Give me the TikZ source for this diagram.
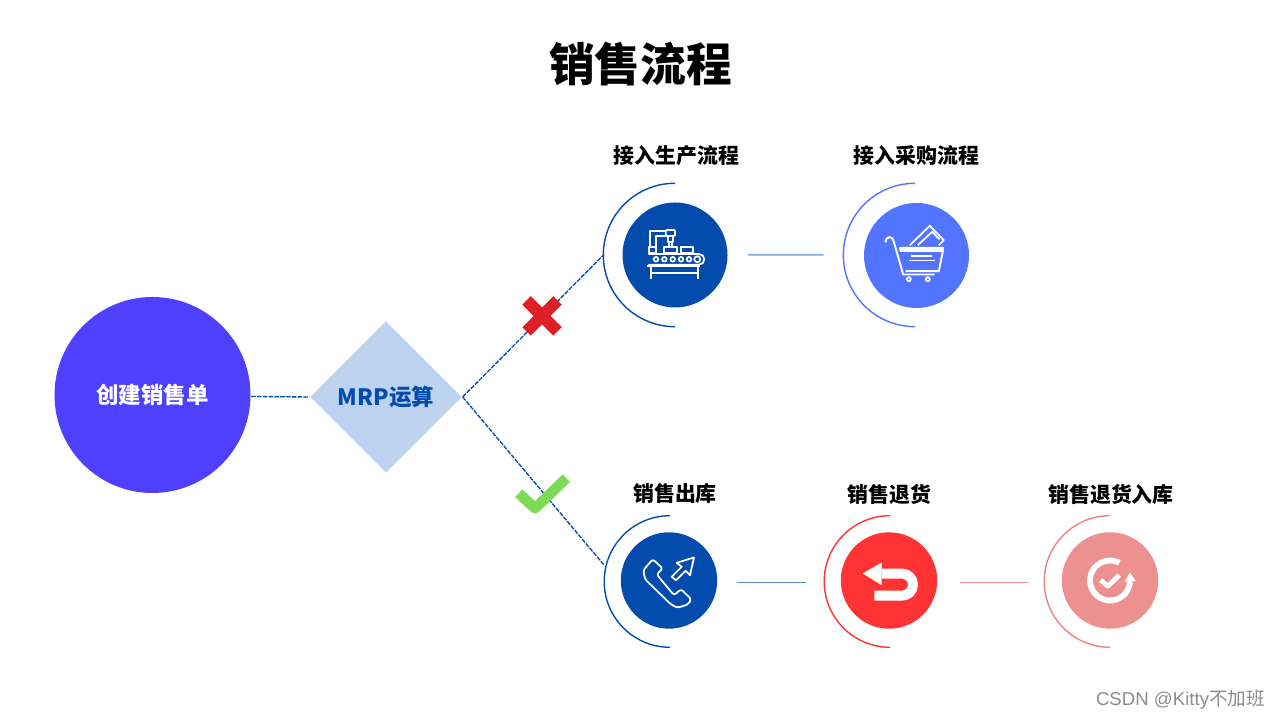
\documentclass[tikz,border=0pt]{standalone}
\usepackage{fontspec}
\setmainfont{Noto Sans CJK SC}
\newfontfamily\markfont{Liberation Sans}
\usetikzlibrary{shapes.geometric}
\definecolor{startblue}{HTML}{4F3FFF}
\definecolor{diapale}{HTML}{BDD2EE}
\definecolor{deepblue}{HTML}{034CAD}
\definecolor{cartblue}{HTML}{5274FF}
\definecolor{backred}{HTML}{FF3333}
\definecolor{inpink}{HTML}{EC9090}
\definecolor{crossred}{HTML}{DF1F26}
\definecolor{tickgreen}{HTML}{7ED957}
\definecolor{linkpale}{HTML}{7FA6E0}
\begin{document}
\begin{tikzpicture}[
  disc/.style={circle, inner sep=0pt, minimum size=#1, text=white},
  lab/.style={font=\fontsize{5.95}{7}\selectfont\bfseries},
  dashlink/.style={draw=deepblue, line width=.38pt, dash pattern=on 1.3pt off .35pt},
  link/.style={line width=.42pt},
  halo/.style={line width=.4pt},
  icon/.style={shift={#1}, x=.01cm, y=-.01cm, white, line width=.5pt, line join=round}
]
\useasboundingbox (0,0) rectangle (12.8,7.2);
\node[font=\fontsize{13}{15}\selectfont\bfseries] (title) at (6.405,6.56) {销售流程};
\node[disc=1.96cm, fill=startblue, font=\fontsize{6.4}{8}\selectfont\bfseries] (start) at (1.525,3.25) {创建销售单};
\node[diamond, fill=diapale, inner sep=0pt, minimum width=1.52cm, minimum height=1.52cm, text=deepblue, font=\fontsize{6.4}{8}\selectfont\bfseries] (dia) at (3.86,3.23) {MRP运算};
\node[disc=1.05cm, fill=deepblue] (prod) at (6.75,4.65) {};
\node[disc=1.05cm, fill=cartblue] (cart) at (9.165,4.645) {};
\node[disc=.964cm, fill=deepblue] (out) at (6.69,1.395) {};
\node[disc=.964cm, fill=backred] (back) at (8.89,1.395) {};
\node[disc=.964cm, fill=inpink] (in) at (11.10,1.395) {};
\node[lab] (prodlab) at (6.765,5.64) {接入生产流程};
\node[lab] (cartlab) at (9.165,5.64) {接入采购流程};
\node[lab] (outlab) at (6.75,2.26) {销售出库};
\node[lab] (backlab) at (8.895,2.26) {销售退货};
\node[lab] (inlab) at (11.11,2.26) {销售退货入库};
\node[text=gray!90, font=\fontsize{5.3}{6}\markfont] (mark) at (11.805,.20) {CSDN @Kitty{\fontspec{Noto Sans CJK SC}不加班}};
% half rings
\draw[halo, deepblue] (6.75,5.367) arc[start angle=90, end angle=270, radius=.717];
\draw[halo, cartblue] (9.15,5.367) arc[start angle=90, end angle=270, radius=.717];
\draw[halo, deepblue] (6.70,2.043) arc[start angle=90, end angle=270, radius=.658];
\draw[halo, backred] (8.90,2.043) arc[start angle=90, end angle=270, radius=.658];
\draw[halo, inpink!90!red] (11.10,2.043) arc[start angle=90, end angle=270, radius=.658];
\coordinate (prodarc) at (6.04,4.655);
\coordinate (outarc) at (6.04,1.55);
% connectors
\draw[dashlink] ([yshift=-.015cm]start.east) -- (dia.west);
\draw[dashlink] (dia.east) -- (prodarc);
\draw[dashlink] (dia.east) -- (outarc);
\draw[link, linkpale, shorten <=.2cm, shorten >=.397cm] (prod.east) -- ([yshift=.005cm]cart.west);
\draw[link, deepblue!65!white, shorten <=.19cm, shorten >=.34cm] ([yshift=-.018cm]out.east) -- ([yshift=-.018cm]back.west);
\draw[link, backred!55!white, shorten <=.216cm, shorten >=.327cm] ([yshift=-.018cm]back.east) -- ([yshift=-.018cm]in.west);
% cross and tick
\draw[crossred, line width=.12cm] (5.265,4.195) -- (5.575,3.885);
\draw[crossred, line width=.12cm] (5.265,3.885) -- (5.575,4.195);
\draw[tickgreen, line width=.105cm, line join=round] (5.188,2.267) -- (5.35,2.117) -- (5.663,2.417);
% factory icon
\begin{scope}[icon={(prod)}]
\draw (-27.7,11) -- (25,11) (-24.3,11) -- (-24.3,24.3) (23.3,11) -- (23.3,24.3) (-24.3,17.7) -- (23.3,17.7);
\draw[rounded corners=.053cm] (-26.7,-1) -- (29.3,-1) -- (29.3,9.7) -- (-26.7,9.7);
\foreach \rx in {-19,-10.7,-2.3,6,14} \draw (\rx,4.3) circle[radius=.023cm];
\draw (22.3,4.3) circle[radius=.03cm];
\draw (-26,-7.7) rectangle (-19.3,-1.7) (-11,-7.7) rectangle (2.3,-1.7) (6,-8.3) rectangle (18.3,-1.7);
\draw (-25,-7.7) -- (-25,-24.3) -- (-9.3,-24.3) (-19,-7.7) -- (-19,-19) -- (-9.3,-19);
\draw[rounded corners=.01cm] (-9.3,-25) rectangle (0,-19);
\draw (-7.3,-19) rectangle (-1.7,-13.3) (-6,-13.3) rectangle (-3,-7.7);
\end{scope}
% cart icon
\begin{scope}[icon={(cart)}]
\draw[line width=.55pt] (-31,-13) .. controls (-31,-20) and (-23,-20) .. (-22.7,-13.7) -- (-13.3,19) -- (18,19);
\draw[fill=white] (-16.7,-7.7) -- (26.7,-7.7) -- (26,-4.5) -- (-16,-4.5) -- cycle;
\draw[line width=.55pt] (26.5,-5) -- (22.3,15.7) -- (-11,15.7);
\draw (-6,.7) -- (15.7,.7) (-7.7,5) -- (18.3,5);
\draw (-7.7,23.7) circle[radius=.02cm] (11.3,23.7) circle[radius=.02cm];
\draw (-6.7,-10.3) -- (13.3,-29.7) -- (27.3,-15.3) -- (22.3,-10.3) (1.3,-10.3) -- (15.7,-23.7) -- (23,-16);
\end{scope}
% phone icon
\begin{scope}[icon={(out)}]
\draw[rounded corners=.025cm] (-16.3,-21.3) -- (-6.3,-12) -- (-12.3,-6) -- (5,14.7) -- (12,8.7) -- (22.3,18.7) -- (19,24) -- (8.3,27.3) -- (2,24) -- (-24,-1.3) -- (-25.7,-10.3) -- cycle;
\draw (25,-23) -- (7.7,-17.7) -- (12.7,-13.7) -- (2.7,-3.7) -- (7,-.3) -- (16.7,-9.7) -- (21,-5.3) -- cycle;
\end{scope}
% return icon
\begin{scope}[icon={(back)}]
\fill (-26.3,-7) -- (-7.3,-18) -- (-7.3,4.7) -- cycle;
\draw[line width=.1cm, rounded corners=.11cm] (-7.3,-6.85) -- (24,-6.85) -- (24,15.15) -- (-14.7,15.15);
\end{scope}
% cycle icon
\begin{scope}[shift={(in)}, x=.01cm, y=.01cm, white]
\draw[line width=.058cm] (62:20) arc[start angle=62, end angle=358, radius=20];
\fill (20,8) -- (14.3,-1.3) -- (25.7,-.7) -- cycle;
\draw[line width=.048cm, line join=round] (-9.3,.3) -- (-2.3,-5.7) -- (9.3,5.3);
\end{scope}
\end{tikzpicture}
\end{document}
